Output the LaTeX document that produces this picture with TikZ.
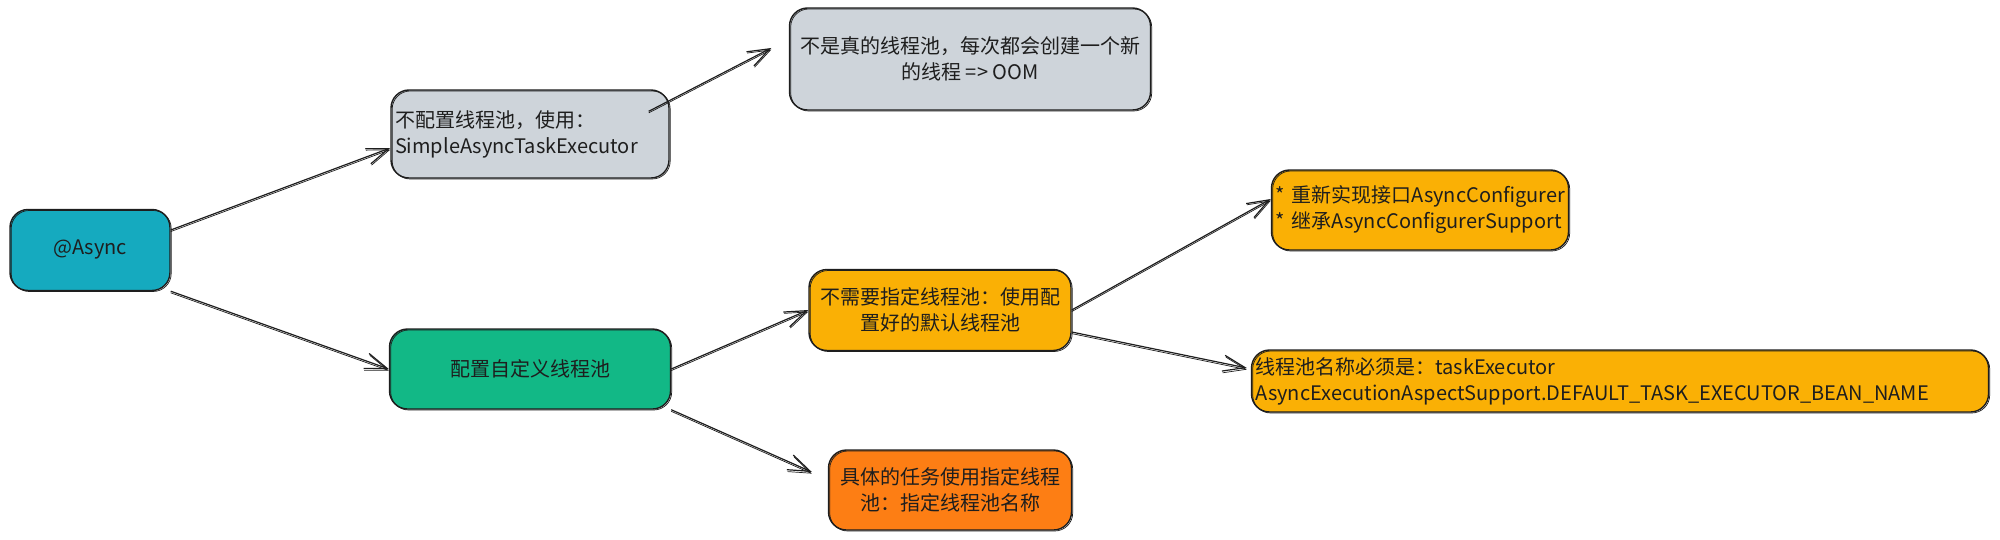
\documentclass[tikz,border=0pt]{standalone}
\usepackage{fontspec}
\setmainfont{Noto Sans CJK SC}
\usetikzlibrary{positioning,arrows.meta}
\hyphenpenalty=10000
\definecolor{asynccyan}{HTML}{15AABF}
\definecolor{poolgray}{HTML}{CED4DA}
\definecolor{poolgreen}{HTML}{12B886}
\definecolor{poolyellow}{HTML}{FAB005}
\definecolor{poolorange}{HTML}{FD7E14}
\definecolor{inkblack}{HTML}{1E1E1E}

\begin{document}
\begin{tikzpicture} [x=0.5pt, y=-0.5pt,
    every node/.style={draw=inkblack, line width=0.7pt, rounded corners=9pt, inner xsep=2pt, inner ysep=0pt,
        font=\fontsize{10pt}{13pt}\selectfont, text=inkblack, align=center,
        postaction={draw=inkblack, line width=0.35pt, transform canvas={shift={(0.6pt,-0.5pt)}}}},
    leftbox/.style={align=left},
    link/.style={draw=inkblack, line width=0.6pt, -{Straight Barb[length=11pt,width=8pt]},
        postaction={draw=inkblack, line width=0.35pt, transform canvas={shift={(0pt,-0.8pt)}}}},]
\useasboundingbox (0,0) rectangle (2000,540);

% boxes
\node[fill=asynccyan, minimum width=80pt, minimum height=40.5pt] (async) at (90,250) {@Async};
\node[fill=poolgray, leftbox, text width=135pt, minimum height=44pt] (noPool) at (530,134)
    {不配置线程池，使用：\\SimpleAsyncTaskExecutor};
\node[fill=poolgray, minimum width=180.5pt, minimum height=51pt] (notReal) at (970,59)
    {不是真的线程池，每次都会创建一个新\\的线程 => OOM};
\node[fill=poolgreen, minimum width=140.5pt, minimum height=40pt] (custom) at (530,369) {配置自定义线程池};
\node[fill=poolyellow, minimum width=131pt, minimum height=40.5pt] (noNeed) at (940,310)
    {不需要指定线程池：使用配\\置好的默认线程池};
\node[fill=poolorange, minimum width=121.5pt, minimum height=40pt] (specific) at (950,490)
    {具体的任务使用指定线程\\池：指定线程池名称};
\node[fill=poolyellow, leftbox, text width=144.5pt, minimum height=40pt] (impl) at (1420,210)
    {{*}~重新实现接口AsyncConfigurer\\{*}~继承AsyncConfigurerSupport};
\node[fill=poolyellow, leftbox, text width=364.5pt, minimum height=31pt] (name) at (1620,381)
    {线程池名称必须是：taskExecutor\\AsyncExecutionAspectSupport.DEFAULT\_TASK\_EXECUTOR\_BEAN\_NAME};

% links
\draw[link] ([yshift=10pt]async.east) -- ([yshift=-7pt]noPool.west);
\draw[link] (async.south east) -- (custom.west);
\draw[link] ([xshift=-10.5pt,yshift=-11pt]noPool.north east) -- ([xshift=-8.75pt,yshift=5.5pt]notReal.west);
\draw[link] (custom.east) -- (noNeed.west);
\draw[link] (custom.south east) -- ([xshift=-8pt,yshift=9pt]specific.west);
\draw[link] (noNeed.east) -- ([yshift=5.5pt]impl.west);
\draw[link] ([yshift=-11pt]noNeed.east) -- ([xshift=-2pt,yshift=6.5pt]name.west);

\end{tikzpicture}
\end{document}
